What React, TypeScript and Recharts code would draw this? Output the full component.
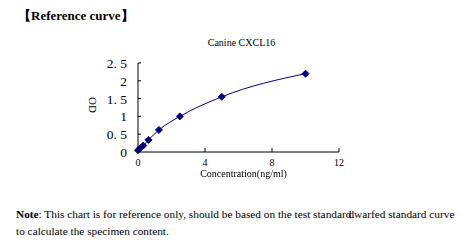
import React from "react";
import { ComposedChart, Line, XAxis, YAxis } from "recharts";

const concentrations = [0, 0.156, 0.312, 0.625, 1.25, 2.5, 5, 10];
const odValues = [0.05, 0.12, 0.18, 0.34, 0.62, 1.0, 1.55, 2.2];
const xTicks = [0, 4, 8, 12];
const yTicks = [0, 0.5, 1, 1.5, 2, 2.5];
const yTickLabels = ["0", "0. 5", "1", "1. 5", "2", "2. 5"];

const data = concentrations.map((c, i) => ({ x: c, y: odValues[i] }));

const NAVY = "#00007f";
const serif = "'Liberation Serif', 'DejaVu Serif', serif";

const Diamond = (props: any) => {
  const { cx, cy } = props;
  if (cx == null || cy == null) return null;
  const r = 3.5;
  return (
    <path
      d={`M${cx},${cy - r} L${cx + r},${cy} L${cx},${cy + r} L${cx - r},${cy} Z`}
      fill={NAVY}
      stroke={NAVY}
    />
  );
};

const XTick = (props: any) => {
  const { x, y, payload } = props;
  const axisY = y - 6;
  return (
    <g>
      {payload.value !== 0 && (
        <line x1={x} y1={axisY} x2={x} y2={axisY - 4} stroke="#000" strokeWidth={1} />
      )}
      <text x={x} y={y + 8} textAnchor="middle" fontSize={10} fontFamily={serif} fill="#000">
        {payload.value}
      </text>
    </g>
  );
};

const YTick = (props: any) => {
  const { x, y, payload } = props;
  const axisX = x + 10;
  const idx = yTicks.indexOf(payload.value);
  return (
    <g>
      {payload.value !== 0 && (
        <line x1={axisX} y1={y} x2={axisX + 3} y2={y} stroke="#000" strokeWidth={1} />
      )}
      <text x={x - 1} y={y + 5} textAnchor="end" fontSize={13.5} fontFamily={serif} fill="#000">
        {idx >= 0 ? yTickLabels[idx] : payload.value}
      </text>
    </g>
  );
};

export default function App() {
  return (
    <div
      style={{
        position: "fixed",
        left: 0,
        top: 0,
        width: 471,
        height: 242,
        background: "#fff",
        fontFamily: serif,
        color: "#000",
      }}
    >
      <div style={{ position: "absolute", left: 18, top: 7, fontSize: 13, fontWeight: "bold", whiteSpace: "nowrap" }}>
        【Reference curve】
      </div>
      <div style={{ position: "absolute", left: 0, width: 471, top: 37, textAlign: "center", fontSize: 10, paddingLeft: 6 }}>
        Canine CXCL16
      </div>
      <div style={{ position: "absolute", left: 0, top: 0 }}>
        <ComposedChart width={471} height={242} data={data} margin={{ top: 63, right: 132, bottom: 60, left: 0 }}>
          <XAxis
            type="number"
            dataKey="x"
            domain={[0, 12]}
            ticks={xTicks}
            interval={0}
            height={30}
            tickSize={0}
            tickMargin={6}
            tick={<XTick />}
            axisLine={{ stroke: "#000" }}
            tickLine={false}
          />
          <YAxis
            type="number"
            dataKey="y"
            domain={[0, 2.5]}
            ticks={yTicks}
            interval={0}
            width={138}
            tickSize={0}
            tickMargin={10}
            tick={<YTick />}
            axisLine={{ stroke: "#000" }}
            tickLine={false}
          />
          <Line
            type="monotone"
            dataKey="y"
            stroke={NAVY}
            strokeWidth={1}
            dot={<Diamond />}
            isAnimationActive={false}
          />
        </ComposedChart>
      </div>
      <div
        style={{
          position: "absolute",
          left: 85,
          top: 99,
          fontSize: 11,
          lineHeight: "12px",
          transform: "rotate(90deg)",
          transformOrigin: "center",
        }}
      >
        OD
      </div>
      <div style={{ position: "absolute", left: 0, width: 471, top: 168, textAlign: "center", fontSize: 10, paddingLeft: 8 }}>
        Concentration(ng/ml)
      </div>
      <div style={{ position: "absolute", left: 16, top: 206, fontSize: 11.3, lineHeight: "17px", whiteSpace: "nowrap" }}>
        <b>Note</b>: This chart is for reference only, should be based on the test standard
        <span style={{ marginLeft: -3 }}>dwarfed</span> standard curve
        <br />
        to calculate the specimen content.
      </div>
    </div>
  );
}
